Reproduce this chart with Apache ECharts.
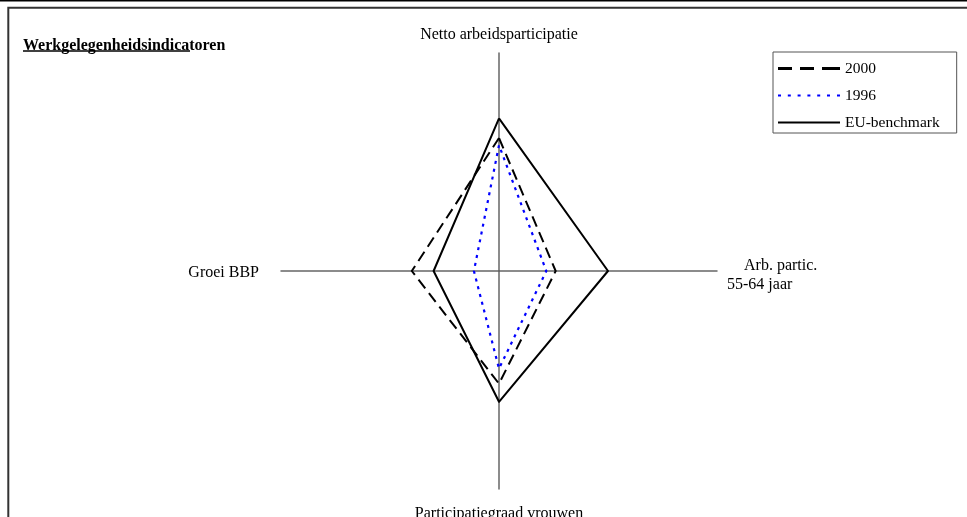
<!DOCTYPE html>
<html>
<head>
<meta charset="utf-8">
<script src="https://cdn.jsdelivr.net/npm/echarts@6/dist/echarts.min.js"></script>
<style>html,body{margin:0;padding:0;background:#fff;}#c{width:967px;height:517px;}</style>
</head>
<body>
<div id="c"></div>
<script>
// Data
const categories = ['Netto arbeidsparticipatie', 'Groei BBP', 'Participatiegraad vrouwen', 'Arb. partic.\n55-64 jaar'];
const axisMax = [100, 10, 100, 100];
const seriesNames = ['2000', '1996', 'EU-benchmark'];
const values2000 = [61, 4.0, 51.7, 26];
const values1996 = [57.7, 1.15, 44.8, 21.7];
const valuesEU = [70, 3, 60, 50];
const titleText = 'Werkgelegenheidsindicatoren';

const FONT = '"Liberation Serif", "Times New Roman", serif';
const chart = echarts.init(document.getElementById('c'));

const richKeys = ['top', 'left', 'bottom', 'right'];
function nameFormatter(value) {
  const i = categories.indexOf(value);
  if (i === 3) {
    const parts = value.split('\n');
    return '{r1|' + parts[0] + '}\n{r2|' + parts[1] + '}';
  }
  return '{' + richKeys[i] + '|' + value + '}';
}

chart.setOption({
  animation: false,
  backgroundColor: '#fff',
  title: {
    text: titleText,
    left: 18,
    top: 33,
    textStyle: { fontFamily: FONT, fontSize: 16, fontWeight: 'bold', color: '#000' }
  },
  legend: {
    orient: 'vertical',
    left: 773,
    top: 52,
    padding: [8, 17, 2, 5],
    itemGap: 10,
    itemWidth: 62,
    itemHeight: 3,
    borderColor: '#555',
    borderWidth: 1,
    textStyle: { fontFamily: FONT, fontSize: 15.5, color: '#000', lineHeight: 17 },
    data: [
      { name: seriesNames[0], icon: 'path://M0,0h14v3h-14z M22,0h14v3h-14z M44,0h18v3h-18z', itemStyle: { color: '#000' } },
      { name: seriesNames[1], icon: 'path://M0,0h3v2h-3z M9.8,0h3v2h-3z M19.6,0h3v2h-3z M29.4,0h3v2h-3z M39.2,0h3v2h-3z M49,0h3v2h-3z M59,0h3v2h-3z', itemStyle: { color: '#0000ff' } },
      { name: seriesNames[2], icon: 'path://M0,0h62v2h-62z', itemStyle: { color: '#000' } }
    ]
  },
  radar: {
    center: [499, 271],
    radius: 218,
    startAngle: 90,
    shape: 'polygon',
    splitNumber: 1,
    nameGap: 10,
    indicator: categories.map((c, i) => ({ name: c, max: axisMax[i], min: 0 })),
    axisName: {
      color: '#000',
      fontFamily: FONT,
      fontSize: 16,
      formatter: nameFormatter,
      rich: {
        top: { fontFamily: FONT, fontSize: 16, color: '#000' },
        left: { fontFamily: FONT, fontSize: 16, color: '#000', padding: [4, 12, 0, 0] },
        bottom: { fontFamily: FONT, fontSize: 16, color: '#000', padding: [7, 0, 0, 0] },
        r1: { fontFamily: FONT, fontSize: 16, color: '#000', padding: [8, 0, 0, 17], lineHeight: 19 },
        r2: { fontFamily: FONT, fontSize: 16, color: '#000', padding: [8, 0, 0, 0], lineHeight: 19 }
      }
    },
    axisLine: { show: true, lineStyle: { color: '#666', width: 1.5 } },
    splitLine: { show: false },
    splitArea: { show: false },
    axisTick: { show: false },
    axisLabel: { show: false }
  },
  series: [{
    type: 'radar',
    symbol: 'none',
    data: [
      { name: seriesNames[0], value: values2000,
        lineStyle: { color: '#000', width: 2, type: [11, 6] }, itemStyle: { color: '#000' } },
      { name: seriesNames[1], value: values1996,
        lineStyle: { color: '#0000ff', width: 2.2, type: [3, 5] }, itemStyle: { color: '#0000ff' } },
      { name: seriesNames[2], value: valuesEU,
        lineStyle: { color: '#000', width: 2, type: 'solid' }, itemStyle: { color: '#000' } }
    ]
  }],
  graphic: [
    { type: 'line', shape: { x1: 0, y1: 0.8, x2: 967, y2: 0.8 }, style: { stroke: '#000', lineWidth: 1.6 } },
    { type: 'polyline', shape: { points: [[8.3, 517], [8.3, 7.8], [967, 7.8]] }, style: { stroke: '#333', lineWidth: 2, fill: null } },
    { type: 'line', shape: { x1: 23, y1: 51, x2: 190, y2: 51 }, style: { stroke: '#000', lineWidth: 1.3 } }
  ]
});
</script>
</body>
</html>
